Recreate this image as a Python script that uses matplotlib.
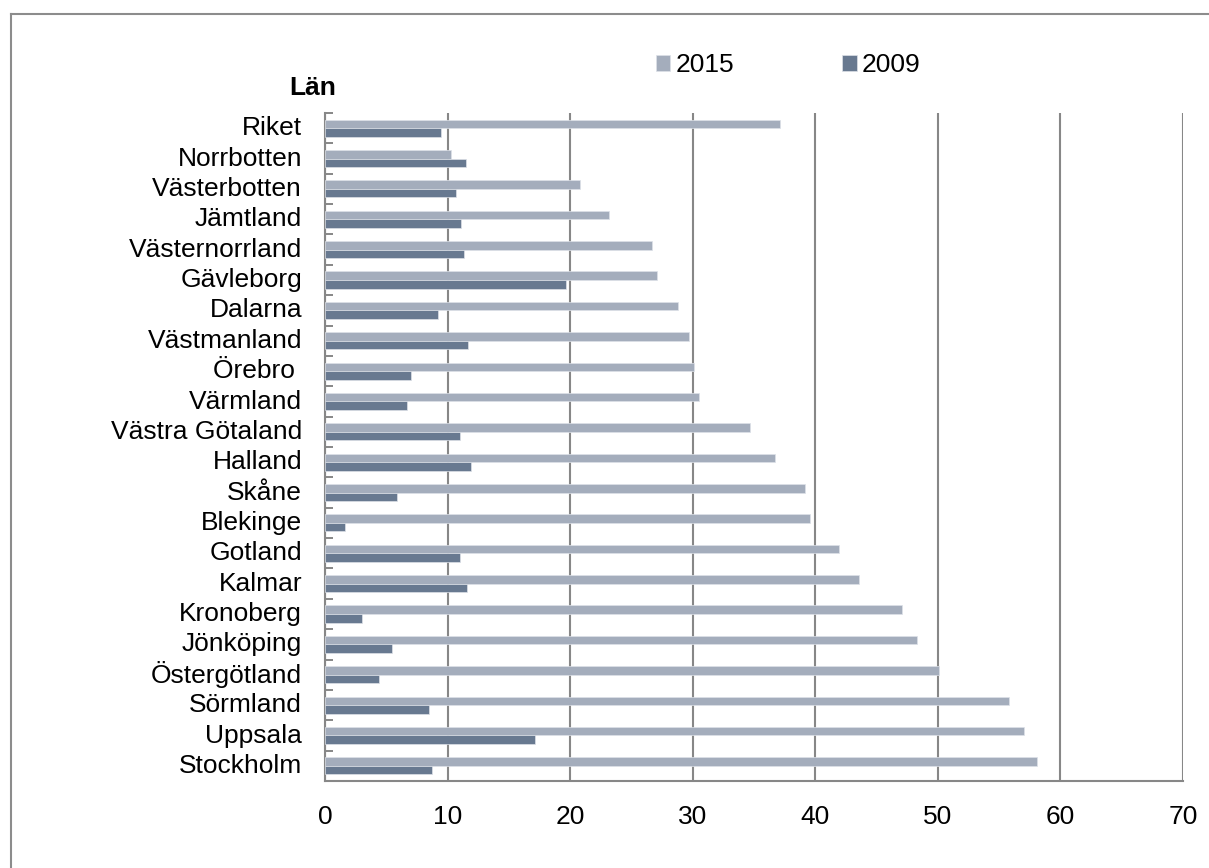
import matplotlib
matplotlib.use("Agg")
import matplotlib.pyplot as plt
from matplotlib.lines import Line2D
from matplotlib.ticker import FixedLocator
import numpy as np

plt.rcParams["font.family"] = ["Liberation Sans", "DejaVu Sans"]

# Counties (län), listed top to bottom
lan = ["Riket", "Norrbotten", "Västerbotten", "Jämtland", "Västernorrland",
       "Gävleborg", "Dalarna", "Västmanland", "Örebro ", "Värmland",
       "Västra Götaland", "Halland", "Skåne", "Blekinge", "Gotland", "Kalmar",
       "Kronoberg", "Jönköping", "Östergötland", "Sörmland", "Uppsala",
       "Stockholm"]

v2015 = [37.1, 10.3, 20.8, 23.2, 26.7, 27.1, 28.8, 29.7, 30.1, 30.5,
         34.7, 36.7, 39.2, 39.6, 41.9, 43.6, 47.1, 48.3, 50.1, 55.8,
         57.0, 58.1]
v2009 = [9.5, 11.5, 10.7, 11.1, 11.3, 19.7, 9.2, 11.7, 7.0, 6.7,
         11.0, 11.9, 5.9, 1.6, 11.0, 11.6, 3.0, 5.5, 4.4, 8.5,
         17.1, 8.7]

xticks = [0, 10, 20, 30, 40, 50, 60, 70]
series_names = ["2015", "2009"]

W, H = 1209, 868
FS = 19
fig = plt.figure(figsize=(W / 100, H / 100), dpi=100)
ax = fig.add_axes([325 / W, 1 - 781 / H, (1183 - 325) / W, (781 - 113) / H])

c_light = "#a4adbc"
c_dark = "#687990"
grid_c = "#878787"

y = np.arange(len(lan))
bh = 0.28
b1 = ax.barh(y - bh / 2, v2015, height=bh, color=c_light,
             edgecolor="#dde1e8", linewidth=0.5, label=series_names[0], zorder=3)
b2 = ax.barh(y + bh / 2, v2009, height=bh, color=c_dark,
             edgecolor="#dde1e8", linewidth=0.5, label=series_names[1], zorder=3)

ax.set_xlim(0, 70)
ax.set_ylim(len(lan) - 0.5, -0.5)

ax.set_xticks(xticks)
ax.set_xticklabels([str(t) for t in xticks], fontsize=FS)
ax.set_yticks(y - 0.08)
ax.set_yticklabels(lan, fontsize=FS)
ax.tick_params(axis="x", length=0, pad=17)
ax.tick_params(axis="y", which="major", length=0, pad=16.5)
ax.yaxis.set_minor_locator(FixedLocator(np.arange(-0.5, len(lan), 1.0)))
ax.tick_params(axis="y", which="minor", direction="in", length=5.5,
               width=1.4, color=grid_c)

ax.grid(axis="x", color=grid_c, linewidth=1.5, zorder=0)
ax.set_axisbelow(True)
for s in ["top", "right"]:
    ax.spines[s].set_visible(False)
for s in ["left", "bottom"]:
    ax.spines[s].set_color(grid_c)
    ax.spines[s].set_linewidth(1.5)

fig.legend(handles=[b1, b2], labels=series_names, loc="center left",
           bbox_to_anchor=(656 / W, 1 - 65 / H), ncol=2, frameon=False,
           fontsize=FS, handlelength=0.54, handleheight=0.54,
           handletextpad=0.2, columnspacing=4.1, borderpad=0,
           borderaxespad=0)

fig.text(313 / W, 1 - 88 / H, "Län", fontsize=FS, fontweight="bold",
         ha="center", va="center")

# chart area border (left and top edges)
border_c = "#8c8c8c"
fig.add_artist(Line2D([10.5 / W, 10.5 / W], [0, 1 - 13.5 / H],
                      transform=fig.transFigure, color=border_c, linewidth=1.5))
fig.add_artist(Line2D([10.5 / W, 1], [1 - 13.5 / H, 1 - 13.5 / H],
                      transform=fig.transFigure, color=border_c, linewidth=1.5))

fig.savefig("out.png", dpi=100)
